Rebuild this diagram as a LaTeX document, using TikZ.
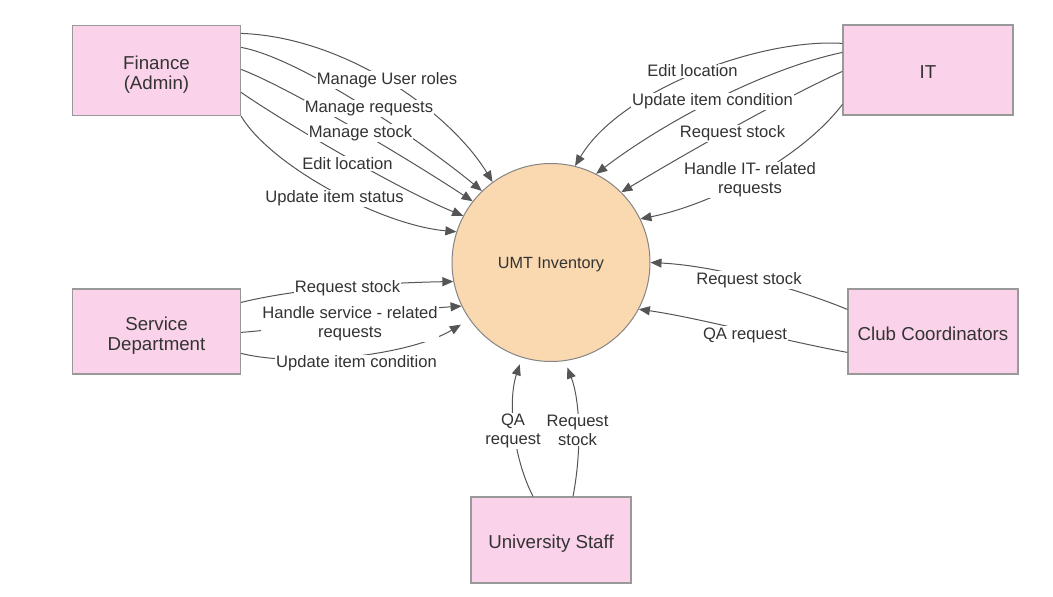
\documentclass[tikz,border=0pt]{standalone}
\usepackage{fontspec}
\setmainfont{Liberation Sans}
\usetikzlibrary{arrows.meta,calc}
\definecolor{boxpink}{HTML}{FAD3EA}
\definecolor{boxedge}{HTML}{999999}
\definecolor{peach}{HTML}{FAD9B1}
\definecolor{circedge}{HTML}{858585}
\definecolor{flow}{HTML}{555555}
\definecolor{txt}{HTML}{333333}
\newcommand\etext[1]{\raisebox{0pt}[\dimexpr\height+9pt\relax][\depth]{\begin{tabular}{@{}c@{}}#1\end{tabular}}}
\begin{document}
\begin{tikzpicture}[x=1pt,y=-1pt,
  entity/.style={draw=boxedge, fill=boxpink, line width=1.2pt, inner sep=0pt, text=txt, font=\fontsize{18.7}{20}\selectfont},
  proc/.style={circle, draw=circedge, fill=peach, line width=1pt, minimum size=198pt, inner sep=0pt, text=txt, text height=11.6pt, text depth=0pt, font=\fontsize{16.2}{19}\selectfont},
  flowline/.style={draw=flow, line width=1pt, -{Triangle[length=11pt,width=9pt]}},
  lbl/.style={fill=white, inner sep=1pt, text=txt, align=center, font=\fontsize{16.6}{19}\selectfont},
]
\useasboundingbox[fill=white] (0,0) rectangle (1053,597);

% entities and process
\node[entity, minimum width=168pt, minimum height=90pt] (fin) at (156.5,70.5) {\etext{Finance\\(Admin)}};
\node[entity, minimum width=170pt, minimum height=90pt] (it) at (928,70) {\etext{IT}};
\node[entity, minimum width=168pt, minimum height=85pt] (svc) at (156.5,331.5) {\etext{Service\\Department}};
\node[entity, minimum width=170pt, minimum height=85pt] (club) at (933,331.5) {\etext{Club Coordinators}};
\node[entity, minimum width=160pt, minimum height=86pt] (staff) at (551,540) {\etext{University Staff}};
\node[proc] (umt) at (551,262.5) {UMT Inventory};

% Finance flows
\draw[flowline] ($(fin.north east)+(0,8.5)$) .. controls (345,37) and (450,112) .. (umt.126);
\draw[flowline] ($(fin.north east)+(0,22.5)$) .. controls (300,58) and (420,140) .. (umt.134.4);
\draw[flowline] ($(fin.north east)+(0,44.5)$) .. controls (290,88) and (410,160) .. (umt.142.8);
\draw[flowline] ($(fin.north east)+(0,67.5)$) .. controls (290,126) and (400,190) .. (umt.152.4);
\draw[flowline] (fin.south east) .. controls (270,165) and (380,225) .. (umt.162.9);

% IT flows
\draw[flowline] ($(it.north west)+(0,19)$) .. controls (760,38) and (620,90) .. (umt.76.6);
\draw[flowline] ($(it.north west)+(0,28)$) .. controls (760,70) and (660,125) .. (umt.63.6);
\draw[flowline] ($(it.north west)+(0,47)$) .. controls (790,95) and (700,145) .. (umt.45.2);
\draw[flowline] ($(it.north west)+(0,80)$) .. controls (800,160) and (710,205) .. (umt.26.6);

% Service flows
\draw[flowline] ($(svc.north east)+(0,14)$) .. controls (300,288) and (380,283) .. (umt.191.7);
\draw[flowline] ($(svc.north east)+(0,44)$) .. controls (330,325) and (400,310) .. (umt.206.3);
\draw[flowline, shorten >=10pt] ($(svc.north east)+(0,65)$) .. controls (300,368) and (410,355) .. (umt.215.1);

% Club flows
\draw[flowline] ($(club.north west)+(0,21)$) .. controls (800,290) and (720,266) .. (umt.0);
\draw[flowline] ($(club.north west)+(0,64)$) .. controls (780,340) and (700,318) .. (umt.332.2);

% Staff flows
\draw[flowline, shorten >=7pt] ($(staff.north)+(-18,0)$) .. controls (512,455) and (508,400) .. (umt.253.2);
\draw[flowline, shorten >=7pt] ($(staff.north)+(22,0)$) .. controls (582,450) and (580,400) .. (umt.278.7);

% labels
\node[lbl] (lf1) at (387,80) {Manage User roles};
\node[lbl] (lf2) at (369,108.5) {Manage requests};
\node[lbl] (lf3) at (360.5,133) {Manage stock};
\node[lbl] (lf4) at (347.5,163.5) {Edit location};
\node[lbl] (lf5) at (334.5,198.5) {Update item status};
\node[lbl] (li1) at (692.5,71) {Edit location};
\node[lbl] (li2) at (712.5,101.5) {Update item condition};
\node[lbl] (li3) at (732.5,133.5) {Request stock};
\node[lbl] (li4) at (750,180) {Handle IT- related\\requests};
\node[lbl] (ls1) at (347.5,288.5) {Request stock};
\node[lbl] (ls2) at (350,323.5) {Handle service - related\\requests};
\node[lbl] (ls3) at (356.5,363.5) {Update item condition};
\node[lbl] (lc1) at (749,280) {Request stock};
\node[lbl] (lc2) at (745,335) {QA request};
\node[lbl] (lu1) at (513,431) {QA\\request};
\node[lbl] (lu2) at (577.5,430) {Request\\stock};
\end{tikzpicture}
\end{document}
